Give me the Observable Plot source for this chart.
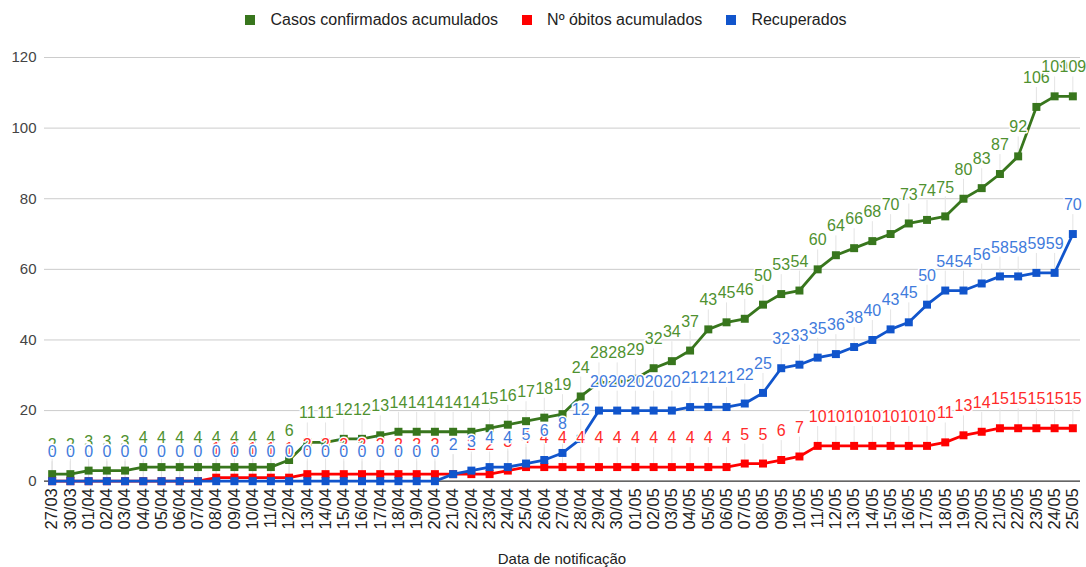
<!DOCTYPE html>
<html>
<head>
<meta charset="utf-8">
<script src="https://cdn.jsdelivr.net/npm/d3@7"></script>
<script src="https://cdn.jsdelivr.net/npm/@observablehq/plot@0.6"></script>
<style>
  html, body { margin: 0; padding: 0; background: #fff; }
  body { width: 1086px; height: 567px; overflow: hidden; font-family: "Liberation Sans", Arial, sans-serif; }
  #legend { height: 40px; display: flex; align-items: center; justify-content: center; padding-left: 6px; box-sizing: border-box; font-size: 16px; color: #222; }
  .item { display: flex; align-items: center; margin: 0 12px; }
  .sw { width: 10px; height: 10px; margin-right: 15px; }
  #caption { height: 17px; line-height: 17px; padding-left: 44px; padding-right: 6px; text-align: center; font-size: 15px; color: #222; }
</style>
</head>
<body>
<div id="legend"></div>
<div id="chart"></div>
<div id="caption">Data de notificação</div>
<script>
const dates = ["27/03","30/03",
  "01/04","02/04","03/04","04/04","05/04","06/04","07/04","08/04","09/04","10/04",
  "11/04","12/04","13/04","14/04","15/04","16/04","17/04","18/04","19/04","20/04",
  "21/04","22/04","23/04","24/04","25/04","26/04","27/04","28/04","29/04","30/04",
  "01/05","02/05","03/05","04/05","05/05","06/05","07/05","08/05","09/05","10/05",
  "11/05","12/05","13/05","14/05","15/05","16/05","17/05","18/05","19/05","20/05",
  "21/05","22/05","23/05","24/05","25/05"];

const confirmados = [2,2,
  3,3,3,4,4,4,4,4,4,4,
  4,6,11,11,12,12,13,14,14,14,
  14,14,15,16,17,18,19,24,28,28,
  29,32,34,37,43,45,46,50,53,54,
  60,64,66,68,70,73,74,75,80,83,
  87,92,106,109,109];

const obitos = [0,0,
  0,0,0,0,0,0,0,1,1,1,
  1,1,2,2,2,2,2,2,2,2,
  2,2,2,3,4,4,4,4,4,4,
  4,4,4,4,4,4,5,5,6,7,
  10,10,10,10,10,10,10,11,13,14,
  15,15,15,15,15];

const recuperados = [0,0,
  0,0,0,0,0,0,0,0,0,0,
  0,0,0,0,0,0,0,0,0,0,
  2,3,4,4,5,6,8,12,20,20,
  20,20,20,21,21,21,22,25,32,33,
  35,36,38,40,43,45,50,54,54,56,
  58,58,59,59,70];

const seriesNames = ["Casos confirmados acumulados", "Nº óbitos acumulados", "Recuperados"];
const lineColors = ["#38761d", "#ff0000", "#1155cc"];
const labelColors = ["#4f9130", "#ff2a2a", "#3f7bdc"];
const yTicks = [0, 20, 40, 60, 80, 100, 120];

const seriesValues = [confirmados, obitos, recuperados];
const rows = seriesValues.map((vals, s) => dates.map((d, i) => ({date: d, v: vals[i], s})));

// legend
const legend = document.getElementById("legend");
seriesNames.forEach((n, i) => {
  const it = document.createElement("div");
  it.className = "item";
  const sw = document.createElement("span");
  sw.className = "sw";
  sw.style.background = lineColors[i];
  const tx = document.createElement("span");
  tx.textContent = n;
  it.appendChild(sw); it.appendChild(tx);
  legend.appendChild(it);
});

const marks = [
  Plot.gridY(yTicks.filter(t => t > 0), {stroke: "#cccccc", strokeOpacity: 1, strokeWidth: 1}),
  Plot.axisY(yTicks, {tickSize: 0, tickPadding: 8, fontSize: 15, fill: "#444", label: null}),
  Plot.axisX({tickRotate: -90, tickSize: 0, tickPadding: 7, fontSize: 16.5, fill: "#222", label: null})
];

// stems
rows.forEach((r, s) => {
  marks.push(Plot.ruleX(r, {x: "date", y1: "v", y2: d => d.v + 5.5, stroke: "#e4e4e4", strokeWidth: 1}));
});
marks.push(Plot.ruleY([0], {stroke: "#333", strokeWidth: 1.2}));
rows.forEach((r, s) => {
  marks.push(Plot.line(r, {x: "date", y: "v", stroke: lineColors[s], strokeWidth: 2.8}));
  marks.push(Plot.dot(r, {x: "date", y: "v", symbol: "square", r: 4.5, fill: lineColors[s], stroke: "none"}));
});
rows.forEach((r, s) => {
  marks.push(Plot.text(r, {
    x: "date", y: "v", text: d => String(d.v), dy: -29, lineAnchor: "middle",
    fill: labelColors[s], stroke: "white", strokeWidth: 3, paintOrder: "stroke",
    fontSize: 16
  }));
});

const chart = Plot.plot({
  width: 1086,
  height: 510,
  marginLeft: 44,
  marginRight: 6,
  marginTop: 17,
  marginBottom: 69.3,
  style: {fontFamily: "'Liberation Sans', Arial, sans-serif", fontSize: "15px", color: "#222", background: "white"},
  x: {type: "point", domain: dates, padding: 0.42, round: false},
  y: {domain: [0, 120]},
  marks
});
document.getElementById("chart").appendChild(chart);
</script>
</body>
</html>
